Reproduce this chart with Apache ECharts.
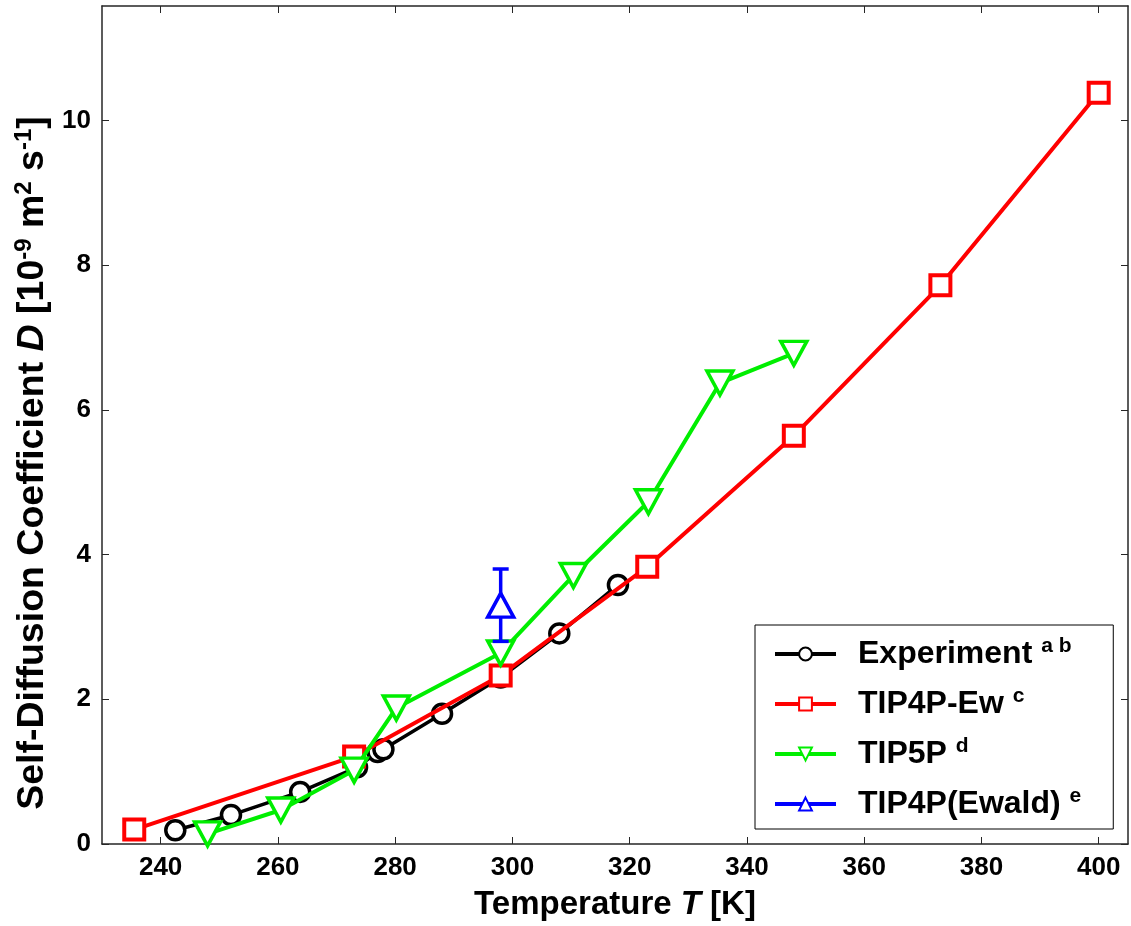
<!DOCTYPE html>
<html lang="en">
<head>
    <meta charset="UTF-8">
    <title>Self-diffusion of water</title>
    <style>
        html, body { margin: 0; padding: 0; background: #fff; }
        .chart { width: 1131px; height: 926px; }
    </style>
</head>
<body>
<div class="chart" id="showData"></div>
<script src="https://cdn.jsdelivr.net/npm/echarts@6/dist/echarts.min.js"></script>
<script>
    // data
    var expT = [242.5, 252, 263.8, 273.5, 277, 278, 288, 298, 308, 318];
    var expD = [0.19, 0.40, 0.72, 1.06, 1.27, 1.31, 1.80, 2.30, 2.91, 3.58];

    var ewT = [235.5, 273, 298, 323, 348, 373, 400];
    var ewD = [0.20, 1.21, 2.33, 3.83, 5.64, 7.72, 10.38];

    var tip5pT = [248, 260.5, 273, 280.2, 298, 310.4, 323.2, 335.4, 348];
    var tip5pD = [0.14, 0.47, 1.02, 1.88, 2.64, 3.71, 4.73, 6.37, 6.78];

    var ewaldT = [298];
    var ewaldD = [3.3];
    var ewaldErr = [0.5];

    var xTicks = [240, 260, 280, 300, 320, 340, 360, 380, 400];
    var yTicks = [0, 2, 4, 6, 8, 10];

    var names = ['Experiment', 'TIP4P-Ew', 'TIP5P', 'TIP4P(Ewald)'];
    var sups = {'Experiment': 'a b', 'TIP4P-Ew': 'c', 'TIP5P': 'd', 'TIP4P(Ewald)': 'e'};

    function pairs(xs, ys) {
        var out = [];
        for (var i = 0; i < xs.length; i++) out.push([xs[i], ys[i]]);
        return out;
    }

    var axisColor = '#262626';
    var font = 'Liberation Sans, Arial, sans-serif';
    var narrow = 'Liberation Sans Narrow, Arial Narrow, Liberation Sans, sans-serif';

    var errData = [];
    for (var i = 0; i < ewaldT.length; i++) {
        errData.push([ewaldT[i], ewaldD[i] - ewaldErr[i], ewaldD[i] + ewaldErr[i]]);
    }

    var mychart = echarts.init(document.getElementById('showData'));

    var option = {
        animation: false,
        backgroundColor: '#fff',
        grid: { left: 102, right: 3, top: 6, bottom: 82, containLabel: false, outerBoundsMode: 'none' },
        legend: {
            data: names,
            orient: 'vertical',
            left: 755,
            top: 625,
            padding: [11, 32, 7, 18],
            itemGap: 14,
            itemWidth: 61,
            itemHeight: 16,
            borderColor: '#000',
            borderWidth: 1,
            backgroundColor: '#fff',
            lineStyle: { width: 4 },
            formatter: function (name) {
                return '{g|}' + name + ' {s|' + sups[name] + '}';
            },
            textStyle: {
                fontFamily: font,
                fontWeight: 'bold',
                fontSize: 32,
                lineHeight: 36,
                color: '#000',
                rich: {
                    g: { width: 17 },
                    s: { fontFamily: font, fontWeight: 'bold', fontSize: 21, color: '#000', verticalAlign: 'top', padding: [0, 0, 14, 0] }
                }
            }
        },
        xAxis: [{
            type: 'value',
            min: 230,
            max: 405,
            position: 'bottom',
            name: 'Temperature {i|T} [K]',
            nameLocation: 'middle',
            nameGap: 44,
            nameMoveOverlap: false,
            nameTextStyle: {
                fontFamily: font, fontWeight: 'bold', fontSize: 33, color: '#000',
                rich: { i: { fontFamily: font, fontWeight: 'bold', fontStyle: 'italic', fontSize: 33, color: '#000' } }
            },
            axisLine: { onZero: false, lineStyle: { color: axisColor, width: 1.5 } },
            axisTick: { inside: true, length: 7, customValues: xTicks, lineStyle: { color: axisColor } },
            axisLabel: { customValues: xTicks, margin: 11, fontFamily: font, fontWeight: 'bold', fontSize: 26, color: '#000' },
            splitLine: { show: false }
        }, {
            type: 'value',
            min: 230,
            max: 405,
            position: 'top',
            axisLine: { onZero: false, lineStyle: { color: axisColor, width: 1.5 } },
            axisTick: { inside: true, length: 7, customValues: xTicks, lineStyle: { color: axisColor } },
            axisLabel: { show: false },
            splitLine: { show: false }
        }],
        yAxis: [{
            type: 'value',
            min: 0,
            max: 11.58,
            position: 'left',
            name: 'Self-Diffusion Coefficient {i|D} [10{s|-9} m{s|2} s{s|-1}]',
            nameLocation: 'middle',
            nameRotate: 90,
            nameGap: 48,
            nameMoveOverlap: false,
            nameTextStyle: {
                fontFamily: narrow, fontWeight: 'bold', fontSize: 37.5, color: '#000',
                padding: [0, 76, 0, 0],
                rich: {
                    i: { fontFamily: narrow, fontWeight: 'bold', fontStyle: 'italic', fontSize: 37.5, color: '#000' },
                    s: { fontFamily: narrow, fontWeight: 'bold', fontSize: 24, color: '#000', verticalAlign: 'top', padding: [0, 0, 18, 0] }
                }
            },
            axisLine: { onZero: false, lineStyle: { color: axisColor, width: 1.5 } },
            axisTick: { inside: true, length: 7, customValues: yTicks, lineStyle: { color: axisColor } },
            axisLabel: { customValues: yTicks, margin: 11, fontFamily: font, fontWeight: 'bold', fontSize: 26, color: '#000' },
            splitLine: { show: false }
        }, {
            type: 'value',
            min: 0,
            max: 11.58,
            position: 'right',
            axisLine: { onZero: false, lineStyle: { color: axisColor, width: 1.5 } },
            axisTick: { inside: true, length: 7, customValues: yTicks, lineStyle: { color: axisColor } },
            axisLabel: { show: false },
            splitLine: { show: false }
        }],
        series: [{
            name: 'Experiment',
            type: 'line',
            data: pairs(expT, expD),
            symbol: 'circle',
            symbolSize: 19,
            lineStyle: { color: '#000', width: 3.5 },
            itemStyle: { color: '#fff', borderColor: '#000', borderWidth: 3.5 },
            z: 2
        }, {
            name: 'TIP4P-Ew',
            type: 'line',
            data: pairs(ewT, ewD),
            symbol: 'rect',
            symbolSize: 20,
            lineStyle: { color: '#ff0000', width: 4 },
            itemStyle: { color: '#fff', borderColor: '#ff0000', borderWidth: 4 },
            z: 3
        }, {
            name: 'TIP5P',
            type: 'line',
            data: pairs(tip5pT, tip5pD),
            symbol: 'triangle',
            symbolRotate: 180,
            symbolSize: [26, 24],
            lineStyle: { color: '#00ee00', width: 4 },
            itemStyle: { color: '#fff', borderColor: '#00ee00', borderWidth: 3.5 },
            z: 4
        }, {
            name: 'TIP4P(Ewald) err',
            type: 'custom',
            data: errData,
            renderItem: function (params, api) {
                var x = api.value(0);
                var lo = api.coord([x, api.value(1)]);
                var hi = api.coord([x, api.value(2)]);
                var cap = 8;
                var style = { stroke: '#0000ff', lineWidth: 3.5 };
                return {
                    type: 'group',
                    children: [
                        { type: 'line', shape: { x1: lo[0], y1: lo[1], x2: hi[0], y2: hi[1] }, style: style },
                        { type: 'line', shape: { x1: lo[0] - cap, y1: lo[1], x2: lo[0] + cap, y2: lo[1] }, style: style },
                        { type: 'line', shape: { x1: hi[0] - cap, y1: hi[1], x2: hi[0] + cap, y2: hi[1] }, style: style }
                    ]
                };
            },
            z: 5
        }, {
            name: 'TIP4P(Ewald)',
            type: 'line',
            data: pairs(ewaldT, ewaldD),
            symbol: 'triangle',
            symbolSize: [26, 24],
            lineStyle: { color: '#0000ff', width: 4 },
            itemStyle: { color: '#fff', borderColor: '#0000ff', borderWidth: 3.5 },
            z: 6
        }]
    };

    mychart.setOption(option);
</script>
</body>
</html>
